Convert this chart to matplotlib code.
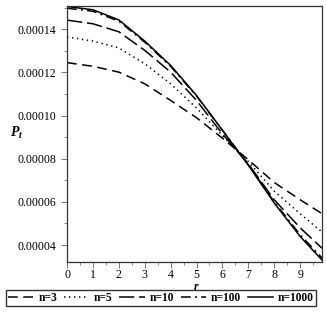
import matplotlib

matplotlib.use("Agg")
import matplotlib.pyplot as plt
from matplotlib.ticker import FuncFormatter, MultipleLocator

# Values (P_t at r = 0..9 and at the right edge 9.85).
r = [0, 1, 2, 3, 4, 5, 6, 7, 8, 9, 9.85]
p_n3 = [1.245, 1.228, 1.201, 1.147, 1.070, 0.990, 0.895, 0.795, 0.690, 0.610, 0.545]
p_n5 = [1.364, 1.345, 1.313, 1.240, 1.147, 1.035, 0.907, 0.787, 0.650, 0.545, 0.460]
p_n10 = [1.442, 1.425, 1.388, 1.302, 1.201, 1.070, 0.915, 0.776, 0.610, 0.480, 0.385]
p_n100 = [1.497, 1.483, 1.437, 1.340, 1.228, 1.090, 0.932, 0.772, 0.600, 0.448, 0.340]
p_n1000 = [1.505, 1.490, 1.443, 1.345, 1.232, 1.093, 0.932, 0.770, 0.595, 0.440, 0.330]
SCALE = 1e-4

labels = ["n=3", "n=5", "n=10", "n=100", "n=1000"]
series = [p_n3, p_n5, p_n10, p_n100, p_n1000]
styles = [
    (0, (7, 4)),
    (0, (1, 2.6)),
    (0, (11, 3.5)),
    (0, (7, 3, 1.5, 3)),
    "solid",
]


def main() -> None:
    plt.rcParams["font.family"] = ["Liberation Serif", "DejaVu Serif"]
    plt.rcParams["mathtext.fontset"] = "custom"
    plt.rcParams["mathtext.rm"] = "Liberation Serif:bold"
    plt.rcParams["mathtext.it"] = "Liberation Serif:italic:bold"
    plt.rcParams["lines.scale_dashes"] = False

    fig = plt.figure(figsize=(3.27, 3.20), dpi=100)
    ax = fig.add_axes([0.205, 0.181, 0.780, 0.800])

    for vals, ls, lab in zip(series, styles, labels):
        ax.plot(r, [v * SCALE for v in vals], color="black", lw=1.1,
                linestyle=ls, label=lab)

    ax.set_xlim(0, 9.85)
    ax.set_ylim(0.0000321, 0.0001507)
    ax.xaxis.set_major_locator(MultipleLocator(1))
    ax.xaxis.set_minor_locator(MultipleLocator(0.5))
    ax.yaxis.set_major_locator(MultipleLocator(0.00002))
    ax.yaxis.set_minor_locator(MultipleLocator(0.00001))
    ax.yaxis.set_major_formatter(FuncFormatter(lambda v, _: f"{v:.5f}"))
    ax.tick_params(which="major", direction="out", length=4, width=0.7,
                   labelsize=8.5, color="#777777")
    ax.tick_params(axis="x", which="major", pad=1)
    ax.tick_params(which="minor", direction="out", length=2, width=0.6,
                   color="#777777")
    for s in ax.spines.values():
        s.set_linewidth(0.9)
        s.set_color("#333333")

    ax.set_xlabel("$r$", fontsize=8.5, va="center")
    ax.xaxis.set_label_coords(0.506, -0.099)
    ax.set_ylabel("$P_t$", fontsize=10, rotation=0, va="center", ha="center")
    ax.yaxis.set_label_coords(-0.196, 0.505)

    leg = fig.legend(
        loc="center",
        bbox_to_anchor=(161 / 327, 1 - 298 / 320),
        ncol=5,
        frameon=True,
        fancybox=False,
        handlelength=2.2,
        handletextpad=0.4,
        columnspacing=0.6,
        borderpad=0.15,
        borderaxespad=0,
        prop={"weight": "bold", "size": 8.3},
    )
    leg.get_frame().set_edgecolor("black")
    leg.get_frame().set_linewidth(1.0)

    fig.savefig("out.png", dpi=100)


if __name__ == "__main__":
    main()
